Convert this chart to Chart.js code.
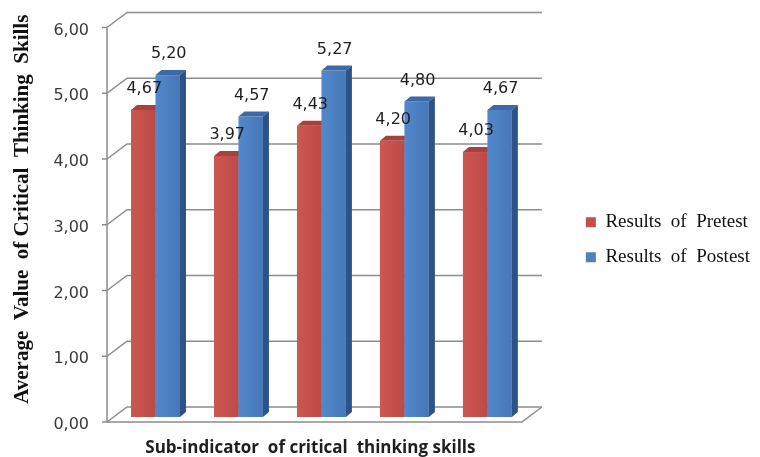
<!DOCTYPE html>
<html>
<head>
<meta charset="utf-8">
<script src="https://cdn.jsdelivr.net/npm/chart.js@4.4.0/dist/chart.umd.min.js"></script>
<style>
  html, body { margin: 0; padding: 0; background: #fff; }
  #wrap { position: relative; width: 760px; height: 457px; }
</style>
</head>
<body>
<div id="wrap"><canvas id="thinkingChart"></canvas></div>
<script>
// data
const categories = ['Sub-indicator 1', 'Sub-indicator 2', 'Sub-indicator 3', 'Sub-indicator 4', 'Sub-indicator 5'];
const pretestValues = [4.67, 3.97, 4.43, 4.20, 4.03];
const postestValues = [5.20, 4.57, 5.27, 4.80, 4.67];
const seriesNames = ['Results  of  Pretest', 'Results  of  Postest'];
const yMin = 0;
const yMax = 6;
const yStep = 1;

// fake 3d look (excel style)
const FRONT = { dx: -7, dy: 5 };    // front edge of floor / axis, relative to bar plane
const BACK = { dx: 13, dy: -10 };   // back wall, relative to bar plane
const DEPTH = { dx: 6, dy: -5 };    // depth of a bar
const faceColors = [['#cc5753', '#bd4a46'], ['#5289cc', '#4677b8']];
const topColors = ['#a8413e', '#3d69a6'];
const sideColors = ['#8a302e', '#2d5286'];

const commaFmt = v => Number(v).toFixed(2).replace('.', ',');

const wall3d = {
  id: 'wall3d',
  beforeDatasetsDraw(chart) {
    const { ctx, chartArea: a, scales: { y } } = chart;
    ctx.save();
    ctx.strokeStyle = '#8c8c8c';
    ctx.lineWidth = 1.5;
    y.ticks.forEach(t => {
      const py = y.getPixelForValue(t.value);
      ctx.beginPath();
      ctx.moveTo(a.left + FRONT.dx, py + FRONT.dy);
      ctx.lineTo(a.left + BACK.dx, py + BACK.dy);
      ctx.lineTo(a.right + BACK.dx, py + BACK.dy);
      ctx.stroke();
    });
    const p0 = y.getPixelForValue(yMin);
    const pTop = y.getPixelForValue(yMax);
    // floor
    ctx.beginPath();
    ctx.moveTo(a.left + FRONT.dx, p0 + FRONT.dy);
    ctx.lineTo(a.right + FRONT.dx, p0 + FRONT.dy);
    ctx.lineTo(a.right + BACK.dx, p0 + BACK.dy);
    ctx.stroke();
    // front axis with small ticks
    ctx.beginPath();
    ctx.moveTo(a.left + FRONT.dx, pTop + FRONT.dy);
    ctx.lineTo(a.left + FRONT.dx, p0 + FRONT.dy);
    y.ticks.forEach(t => {
      const py = y.getPixelForValue(t.value) + FRONT.dy;
      ctx.moveTo(a.left + FRONT.dx - 5, py);
      ctx.lineTo(a.left + FRONT.dx, py);
    });
    ctx.stroke();
    ctx.restore();
  },
  beforeDatasetDraw() {
    return false; // bars are drawn below, red before blue
  },
  afterDatasetsDraw(chart) {
    const { ctx } = chart;
    const metas = chart.data.datasets.map((d, i) => chart.getDatasetMeta(i));
    ctx.save();
    categories.forEach((c, i) => {
      metas.forEach((meta, di) => {
        const { x, y, width, base } = meta.data[i].getProps(['x', 'y', 'width', 'base'], true);
        const l = x - width / 2, r = x + width / 2;
        const g = ctx.createLinearGradient(l, 0, r, 0);
        g.addColorStop(0, faceColors[di][0]);
        g.addColorStop(1, faceColors[di][1]);
        ctx.fillStyle = g;
        ctx.fillRect(l, y, width, base - y);
        ctx.fillStyle = topColors[di];
        ctx.beginPath();
        ctx.moveTo(l, y);
        ctx.lineTo(l + DEPTH.dx, y + DEPTH.dy);
        ctx.lineTo(r + DEPTH.dx, y + DEPTH.dy);
        ctx.lineTo(r, y);
        ctx.closePath();
        ctx.fill();
        ctx.fillStyle = sideColors[di];
        ctx.beginPath();
        ctx.moveTo(r, y);
        ctx.lineTo(r + DEPTH.dx, y + DEPTH.dy);
        ctx.lineTo(r + DEPTH.dx, base + DEPTH.dy);
        ctx.lineTo(r, base);
        ctx.closePath();
        ctx.fill();
      });
    });
    // value labels
    ctx.fillStyle = '#1e1e1e';
    ctx.font = '16px "DejaVu Sans"';
    ctx.textAlign = 'center';
    ctx.textBaseline = 'middle';
    metas.forEach((meta, di) => {
      const values = chart.data.datasets[di].data;
      meta.data.forEach((bar, i) => {
        ctx.fillText(commaFmt(values[i]), bar.x + 1, bar.y - 21);
      });
    });
    ctx.restore();
  }
};

const ctx = document.getElementById('thinkingChart');
new Chart(ctx, {
  type: 'bar',
  data: {
    labels: categories,
    datasets: [{
      label: seriesNames[0],
      data: pretestValues,
      backgroundColor: '#c0504d',
      borderWidth: 0
    }, {
      label: seriesNames[1],
      data: postestValues,
      backgroundColor: '#4f81bd',
      borderWidth: 0
    }]
  },
  options: {
    responsive: true,
    maintainAspectRatio: false,
    animation: false,
    devicePixelRatio: 1,
    layout: {
      padding: { top: 22.5, right: 0, bottom: 0, left: 0 }
    },
    datasets: {
      bar: { barPercentage: 1, categoryPercentage: 0.59 }
    },
    plugins: {
      legend: {
        position: 'right',
        align: 'center',
        maxWidth: 260,
        labels: {
          boxWidth: 10,
          boxHeight: 10,
          padding: 16,
          color: '#111',
          font: { family: 'Liberation Serif', size: 19 }
        }
      },
      tooltip: { enabled: false }
    },
    scales: {
      x: {
        grid: { display: false, drawTicks: false },
        border: { display: false },
        ticks: { display: false },
        title: {
          display: true,
          text: 'Sub-indicator  of critical  thinking skills     ',
          color: '#1e1e1e',
          font: { family: 'Open Sans', size: 17, weight: 'bold', lineHeight: 1 },
          padding: { top: 23, bottom: 0 }
        },
        afterFit(scale) { scale.paddingLeft = 0; scale.paddingRight = 0; }
      },
      y: {
        min: yMin,
        max: yMax,
        grid: { display: false, drawTicks: false },
        border: { display: false },
        ticks: {
          stepSize: yStep,
          padding: 25,
          labelOffset: 8,
          color: '#3a3a3a',
          font: { family: 'DejaVu Sans', size: 16 },
          callback: v => commaFmt(v)
        },
        title: {
          display: true,
          text: '    Average  Value  of Critical  Thinking  Skills',
          color: '#111',
          font: { family: 'Liberation Serif', size: 21, weight: 'bold', lineHeight: 1 },
          padding: { top: 12, bottom: 0 }
        },
        afterFit(scale) {
          scale.width = 114;
          scale.paddingTop = 0;
          scale.paddingBottom = 0;
        }
      },
      side: {
        position: 'right',
        grid: { display: false, drawTicks: false },
        border: { display: false },
        ticks: { display: false },
        afterFit(scale) { scale.width = 41; }
      }
    }
  },
  plugins: [wall3d]
});
</script>
</body>
</html>
